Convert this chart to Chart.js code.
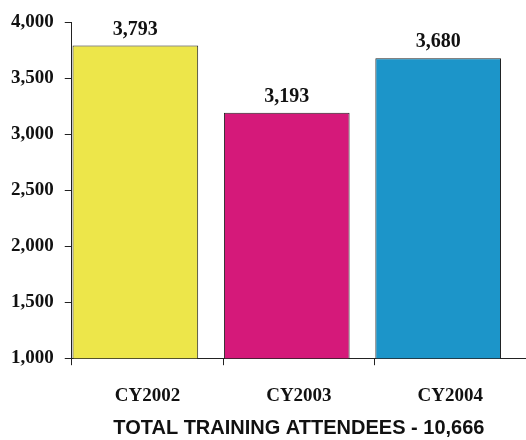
<!DOCTYPE html>
<html>
<head>
<meta charset="utf-8">
<script src="https://cdn.jsdelivr.net/npm/chart.js@4/dist/chart.umd.min.js"></script>
<style>
  html, body { margin: 0; padding: 0; background: #fff; }
  #wrap { width: 526px; height: 440px; }
</style>
</head>
<body>
<div id="wrap"><canvas id="chart"></canvas></div>
<script>
const years = ['CY2002', 'CY2003', 'CY2004'];
const attendees = [3793, 3193, 3680];
const barColors = ['#EDE64A', '#D5197A', '#1C95C9'];
const yTicks = [1000, 1500, 2000, 2500, 3000, 3500, 4000];
const totalLabel = 'TOTAL TRAINING ATTENDEES - 10,666';

// bars sit left of the category centre in the original
const BAR_SHIFT = 0.42;

const fmt = v => v.toLocaleString('en-US');

const valueLabels = {
  id: 'valueLabels',
  afterDatasetsDraw(chart) {
    const ctx = chart.ctx;
    const meta = chart.getDatasetMeta(0);
    ctx.save();
    ctx.font = 'bold 20px "Liberation Serif"';
    ctx.fillStyle = '#111';
    ctx.textAlign = 'center';
    ctx.textBaseline = 'bottom';
    meta.data.forEach((bar, i) => {
      ctx.fillText(fmt(attendees[i]), bar.x, bar.y - 6);
    });
    ctx.restore();
  }
};

const ctx = document.getElementById('chart').getContext('2d');
new Chart(ctx, {
  type: 'bar',
  data: {
    labels: years,
    datasets: [{
      data: attendees.map((v, i) => ({ x: i, y: v })),
      xAxisID: 'xb',
      backgroundColor: barColors,
      borderColor: '#222',
      borderWidth: 1,
      categoryPercentage: 1,
      barPercentage: 0.83
    }]
  },
  options: {
    responsive: true,
    maintainAspectRatio: false,
    animation: false,
    layout: { padding: { top: 14, right: 0, left: 0, bottom: 0 } },
    plugins: {
      legend: { display: false },
      tooltip: { enabled: false }
    },
    scales: {
      xb: {
        type: 'linear',
        display: false,
        offset: false,
        min: -BAR_SHIFT,
        max: 3 - BAR_SHIFT,
        afterBuildTicks: axis => { axis.ticks = years.map((_, i) => ({ value: i })); }
      },
      x: {
        type: 'category',
        offset: true,
        grid: {
          offset: true,
          drawOnChartArea: false,
          tickLength: 7,
          color: '#222'
        },
        border: { color: '#222', width: 1 },
        ticks: {
          color: '#111',
          font: { family: 'Liberation Serif', weight: 'bold', size: 19 },
          padding: 19
        },
        title: {
          display: true,
          text: totalLabel,
          color: '#111',
          font: { family: 'Liberation Sans', weight: 'bold', size: 20 },
          padding: { top: -10, bottom: 0 }
        }
      },
      y: {
        min: 1000,
        max: 4000,
        afterBuildTicks: axis => { axis.ticks = yTicks.map(v => ({ value: v })); },
        grid: {
          drawOnChartArea: false,
          tickLength: 7,
          color: '#222'
        },
        border: { color: '#222', width: 1 },
        ticks: {
          color: '#111',
          font: { family: 'Liberation Serif', weight: 'bold', size: 19 },
          padding: 11,
          callback: v => fmt(v)
        }
      }
    }
  },
  plugins: [valueLabels]
});
</script>
</body>
</html>
